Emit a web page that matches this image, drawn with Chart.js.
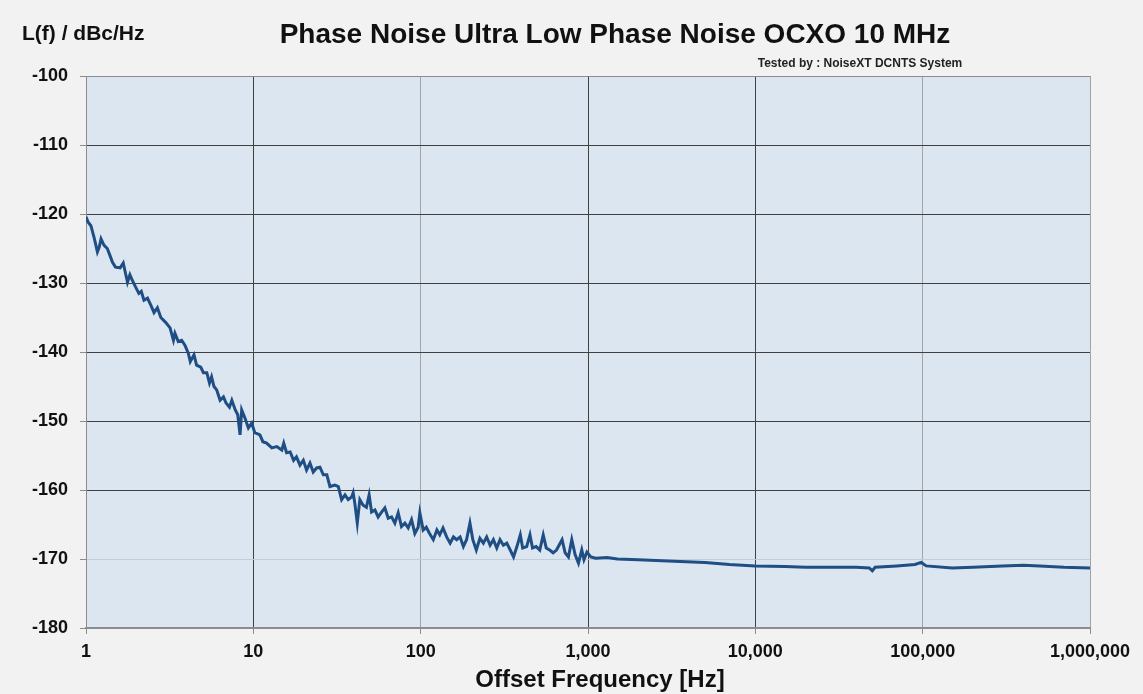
<!DOCTYPE html>
<html>
<head>
<meta charset="utf-8">
<script src="https://cdn.jsdelivr.net/npm/chart.js@4.4.1/dist/chart.umd.min.js"></script>
<style>
  html, body { margin: 0; padding: 0; background: #f2f2f2; }
</style>
</head>
<body>
<canvas id="chart" width="1143" height="694"></canvas>
<script>
const freqHz = [
  1, 1.03, 1.07, 1.12, 1.17, 1.2, 1.23, 1.28, 1.34, 1.39, 1.44, 1.5, 1.6, 1.67, 1.73, 1.77, 1.83, 1.89, 1.98,
  2.07, 2.14, 2.22, 2.33, 2.44, 2.55, 2.67, 2.8, 2.99, 3.18, 3.33, 3.4, 3.56, 3.73, 3.9, 4.09, 4.2, 4.42, 4.58, 4.85,
  5.03, 5.27, 5.47, 5.63, 5.82, 6.04, 6.33, 6.63, 6.87, 7.2, 7.44, 7.8, 8.07, 8.33, 8.52, 8.92, 9.34, 9.78,
  10.2, 10.95, 11.4, 12, 12.9, 13.8, 14.8, 15.2, 15.8, 16.6, 17.4, 18.1, 19, 19.9, 20.8, 21.8, 22.8, 23.9, 25,
  26.2, 27.5, 28.7, 30.7, 32.2, 33.7, 35.3, 36.9, 38.7, 39.5, 40.4, 41.8, 43.3, 45.3, 47.4, 49.2, 50.9, 53.3,
  55.7, 58.4, 61.1, 64, 67, 70.1, 73.4, 76.8, 80.5, 84.2, 88.2, 92.3, 96.6, 98.9, 103.5, 108, 113, 119, 125,
  130, 136, 143, 150, 157, 164, 172, 180, 188, 197, 205, 215, 226, 237, 248, 260, 272, 285, 298, 312, 327,
  343, 359, 376, 394, 407, 430, 450, 466, 490, 515, 540, 563, 590, 619, 648, 700, 730, 764, 800, 838, 877,
  918, 946, 985, 1040, 1110, 1300, 1500, 2000, 3000, 5000, 7000, 10000, 15000, 20000, 30000, 40000, 48000,
  50000, 52000, 70000, 90000, 98000, 105000, 150000, 200000, 300000, 400000, 500000, 700000, 1000000
];
const noiseDbc = [
  -120.4, -121.2, -121.7, -123.5, -125.5, -124.8, -123.6, -124.5, -125, -126, -127, -127.7, -127.8, -127.1, -128.8, -129.9, -128.8, -129.6, -130.6,
  -131.5, -131.2, -132.5, -132.2, -133.2, -134.3, -133.6, -135, -135.7, -136.5, -138.3, -137.3, -138.5, -138.3, -139, -140.2, -141.4, -140.4, -141.9, -142.2,
  -143, -143, -144.5, -143.6, -145, -145.5, -147, -146.5, -147.4, -148, -147, -148.4, -149.1, -152, -148.4, -149.6, -151, -150.3,
  -151.7, -152, -153, -153.2, -153.9, -153.7, -154.2, -153.2, -154.6, -154.5, -155.7, -155.2, -156.4, -155.7, -157.1, -156.1, -157.4, -156.8, -156.7,
  -157.8, -157.8, -159.5, -159.3, -159.5, -161.4, -160.7, -161.4, -161, -160.4, -161.9, -164.8, -161.4, -162.2, -162.5, -160.7, -163.2, -162.9,
  -163.9, -163.2, -162.6, -164.1, -163.9, -164.8, -163.3, -165.3, -164.8, -165.5, -164.3, -166.3, -165.4, -163.3, -165.8, -165.4, -166.3, -167.2, -165.8,
  -166.5, -165.5, -166.8, -167.7, -166.8, -167.2, -166.8, -168.2, -167.2, -164.8, -167.2, -168.7, -167, -167.7, -166.8, -168, -167.2, -168.4, -167.2, -168, -167.7,
  -168.7, -169.7, -168.2, -166.5, -168.4, -168.2, -166.5, -168.4, -168.2, -168.7, -166.5, -168.4, -168.7, -169.1, -168.7, -167.2, -169.1, -169.7, -167.2, -169.4, -170.6,
  -168.7, -170.1, -169, -169.7, -169.9, -169.8, -170, -170.1, -170.3, -170.5, -170.8, -171, -171.1, -171.2, -171.2, -171.2, -171.3,
  -171.7, -171.2, -171, -170.8, -170.5, -171, -171.3, -171.2, -171, -170.9, -171, -171.2, -171.3
];

const xTicks = [1, 10, 100, 1000, 10000, 100000, 1000000];
const yMin = -180;
const yMax = -100;
const yStep = 10;

const chartTitle = 'Phase Noise Ultra Low Phase Noise OCXO 10 MHz';
const yAxisLabel = 'L(f) / dBc/Hz';
const xAxisLabel = 'Offset Frequency [Hz]';
const sourceNote = 'Tested by : NoiseXT DCNTS System';

const FONT = '"Liberation Sans", Arial, sans-serif';

// page/plot background plus the free-standing texts
const decorations = {
  id: 'decorations',
  beforeDraw(chart) {
    const { ctx, chartArea: a } = chart;
    ctx.save();
    ctx.fillStyle = '#f2f2f2';
    ctx.fillRect(0, 0, chart.width, chart.height);
    ctx.fillStyle = '#dce6f1';
    ctx.fillRect(a.left, a.top, a.right - a.left, a.bottom - a.top);
    ctx.restore();
  },
  afterDraw(chart) {
    const ctx = chart.ctx;
    ctx.save();
    ctx.fillStyle = '#111';
    ctx.textBaseline = 'middle';
    ctx.textAlign = 'center';
    ctx.font = 'bold 28px ' + FONT;
    ctx.fillText(chartTitle, 615, 35);
    ctx.textAlign = 'left';
    ctx.font = 'bold 21px ' + FONT;
    ctx.fillText(yAxisLabel, 22, 34);
    ctx.textAlign = 'center';
    ctx.font = 'bold 12px ' + FONT;
    ctx.fillStyle = '#222';
    ctx.fillText(sourceNote, 860, 64);
    ctx.font = 'bold 24px ' + FONT;
    ctx.fillStyle = '#111';
    ctx.fillText(xAxisLabel, 600, 680);
    ctx.restore();
  }
};

const ctx = document.getElementById('chart').getContext('2d');
new Chart(ctx, {
  type: 'line',
  data: {
    datasets: [{
      data: freqHz.map((f, i) => ({ x: f, y: noiseDbc[i] })),
      borderColor: '#1f4e85',
      borderWidth: 3,
      pointRadius: 0,
      tension: 0,
      fill: false
    }]
  },
  options: {
    responsive: false,
    animation: false,
    devicePixelRatio: 1,
    layout: { padding: { top: 76, right: 53, bottom: 0, left: 0 } },
    plugins: {
      legend: { display: false },
      tooltip: { enabled: false }
    },
    scales: {
      x: {
        type: 'logarithmic',
        min: 1,
        max: 1000000,
        afterBuildTicks: scale => { scale.ticks = xTicks.map(v => ({ value: v })); },
        afterFit: scale => { scale.height = 66; },
        ticks: {
          autoSkip: false,
          maxRotation: 0,
          padding: 7,
          color: '#111',
          font: { family: FONT, size: 18, weight: 'bold' },
          callback: v => Number(v).toLocaleString('en-US')
        },
        grid: {
          color: c => (c.tick && (c.tick.value === 100 || c.tick.value === 100000 || c.tick.value === 1000000)) ? '#a3a3a3' : '#404040',
          lineWidth: 1,
          tickLength: 6,
          tickColor: '#8c8c8c'
        },
        border: { color: '#8c8c8c', width: 2 }
      },
      y: {
        min: yMin,
        max: yMax,
        afterFit: scale => { scale.width = 86; },
        ticks: {
          stepSize: yStep,
          padding: 12,
          color: '#111',
          font: { family: FONT, size: 18, weight: 'bold' }
        },
        grid: {
          color: c => {
            const v = c.tick && c.tick.value;
            if (v === yMax) return '#8c8c8c';
            if (v === -170) return '#c3ccd8';
            return '#404040';
          },
          lineWidth: 1,
          tickLength: 6,
          tickColor: '#8c8c8c'
        },
        border: { color: '#8c8c8c', width: 1 }
      }
    }
  },
  plugins: [decorations]
});
</script>
</body>
</html>
